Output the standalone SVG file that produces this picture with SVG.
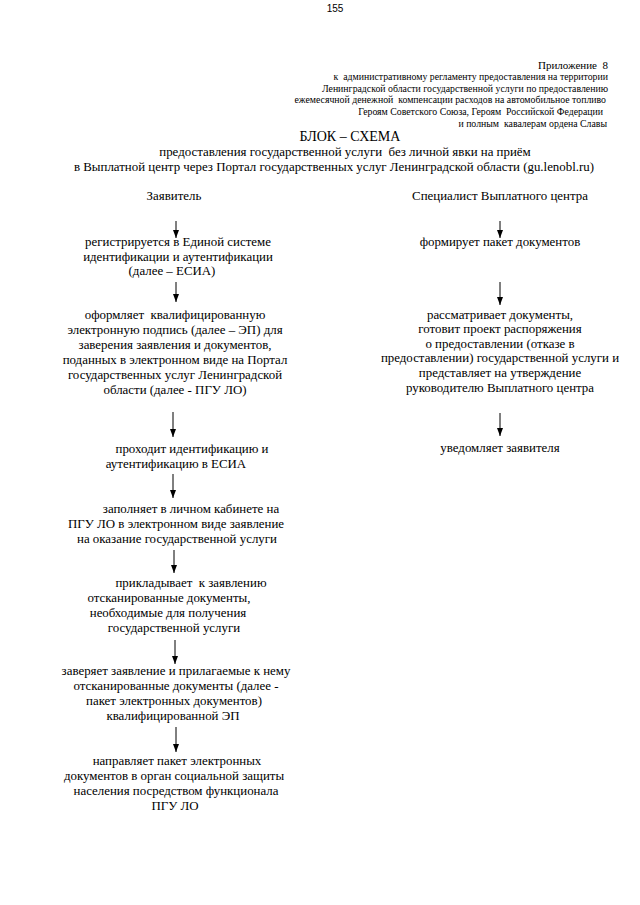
<svg xmlns="http://www.w3.org/2000/svg" width="640" height="905" viewBox="0 0 640 905" xml:space="preserve">
<defs>
<marker id="ah" markerWidth="8" markerHeight="6" refX="8" refY="3" orient="auto" markerUnits="userSpaceOnUse" viewBox="0 0 8 6">
<path d="M0,0 L8,3 L0,6 Z" fill="#000"/>
</marker>
</defs>
<style>
text{font-family:"Liberation Serif","Times New Roman",serif;fill:#000;font-size:12.9px;white-space:pre;}
.c{text-anchor:middle;}
.r{text-anchor:end;font-size:9.8px;}
.h{font-size:14px;}
.pg{font-family:"Liberation Sans",Arial,sans-serif;font-size:10px;}
line{stroke:#000;stroke-width:1;}
</style>
<rect width="640" height="905" fill="#fff"/>
<g id="header">
<text class="pg c" x="335" y="12">155</text>
<text class="r" x="608" y="69" style="font-size:11px">Приложение  8</text>
<text class="r" x="608" y="80">к  административному регламенту предоставления на территории</text>
<text class="r" x="608" y="92">Ленинградской области государственной услуги по предоставлению</text>
<text class="r" x="606" y="103">ежемесячной денежной  компенсации расходов на автомобильное топливо</text>
<text class="r" x="603" y="115">Героям Советского Союза, Героям  Российской Федерации</text>
<text class="r" x="607" y="127">и полным  кавалерам ордена Славы</text>
<text class="c h" x="350" y="141">БЛОК – СХЕМА</text>
<text class="c" x="345" y="156">предоставления государственной услуги  без личной явки на приём</text>
<text class="c" x="334" y="171">в Выплатной центр через Портал государственных услуг Ленинградской области (gu.lenobl.ru)</text>
</g>
<g id="applicant"><text class="c" x="174" y="200">Заявитель</text></g>
<g id="specialist"><text class="c" x="500" y="200">Специалист Выплатного центра</text></g>
<g id="connectors">
<line x1="176" y1="221" x2="176" y2="238" marker-end="url(#ah)"/>
<line x1="176" y1="282" x2="176" y2="302" marker-end="url(#ah)"/>
<line x1="173" y1="412" x2="173" y2="437" marker-end="url(#ah)"/>
<line x1="173" y1="474" x2="173" y2="498" marker-end="url(#ah)"/>
<line x1="174" y1="550" x2="174" y2="573" marker-end="url(#ah)"/>
<line x1="175" y1="640" x2="175" y2="664" marker-end="url(#ah)"/>
<line x1="176" y1="727" x2="176" y2="752" marker-end="url(#ah)"/>
<line x1="500" y1="221" x2="500" y2="238" marker-end="url(#ah)"/>
<line x1="500" y1="282" x2="500" y2="305" marker-end="url(#ah)"/>
<line x1="500" y1="413" x2="500" y2="436" marker-end="url(#ah)"/>
</g>
<g id="l1">
<text class="c" x="178" y="246">регистрируется в Единой системе</text>
<text class="c" x="178" y="261">идентификации и аутентификации</text>
<text class="c" x="172" y="275">(далее – ЕСИА)</text>
</g>
<g id="l2">
<text class="c" x="175" y="319">оформляет  квалифицированную</text>
<text class="c" x="175" y="334">электронную подпись (далее – ЭП) для</text>
<text class="c" x="175" y="349">заверения заявления и документов,</text>
<text class="c" x="175" y="364">поданных в электронном виде на Портал</text>
<text class="c" x="175" y="379">государственных услуг Ленинградской</text>
<text class="c" x="175" y="394">области (далее - ПГУ ЛО)</text>
</g>
<g id="l3">
<text class="c" x="192" y="453">проходит идентификацию и</text>
<text class="c" x="176" y="468">аутентификацию в ЕСИА</text>
</g>
<g id="l4">
<text class="c" x="191" y="513">заполняет в личном кабинете на</text>
<text class="c" x="176" y="528">ПГУ ЛО в электронном виде заявление</text>
<text class="c" x="177" y="543">на оказание государственной услуги</text>
</g>
<g id="l5">
<text class="c" x="191" y="587">прикладывает  к заявлению</text>
<text class="c" x="169" y="602">отсканированные документы,</text>
<text class="c" x="168" y="617">необходимые для получения</text>
<text class="c" x="174" y="632">государственной услуги</text>
</g>
<g id="l6">
<text class="c" x="176" y="675">заверяет заявление и прилагаемые к нему</text>
<text class="c" x="176" y="690">отсканированные документы (далее -</text>
<text class="c" x="174" y="705">пакет электронных документов)</text>
<text class="c" x="173" y="720">квалифицированной ЭП</text>
</g>
<g id="l7">
<text class="c" x="177" y="765">направляет пакет электронных</text>
<text class="c" x="174" y="780">документов в орган социальной защиты</text>
<text class="c" x="176" y="795">населения посредством функционала</text>
<text class="c" x="175" y="810">ПГУ ЛО</text>
</g>
<g id="r1">
<text class="c" x="500" y="246">формирует пакет документов</text>
</g>
<g id="r2">
<text class="c" x="500" y="319">рассматривает документы,</text>
<text class="c" x="500" y="333">готовит проект распоряжения</text>
<text class="c" x="500" y="348">о предоставлении (отказе в</text>
<text class="c" x="500" y="362">предоставлении) государственной услуги и</text>
<text class="c" x="500" y="377">представляет на утверждение</text>
<text class="c" x="500" y="392">руководителю Выплатного центра</text>
</g>
<g id="r3">
<text class="c" x="500" y="452">уведомляет заявителя</text>
</g>
</svg>
